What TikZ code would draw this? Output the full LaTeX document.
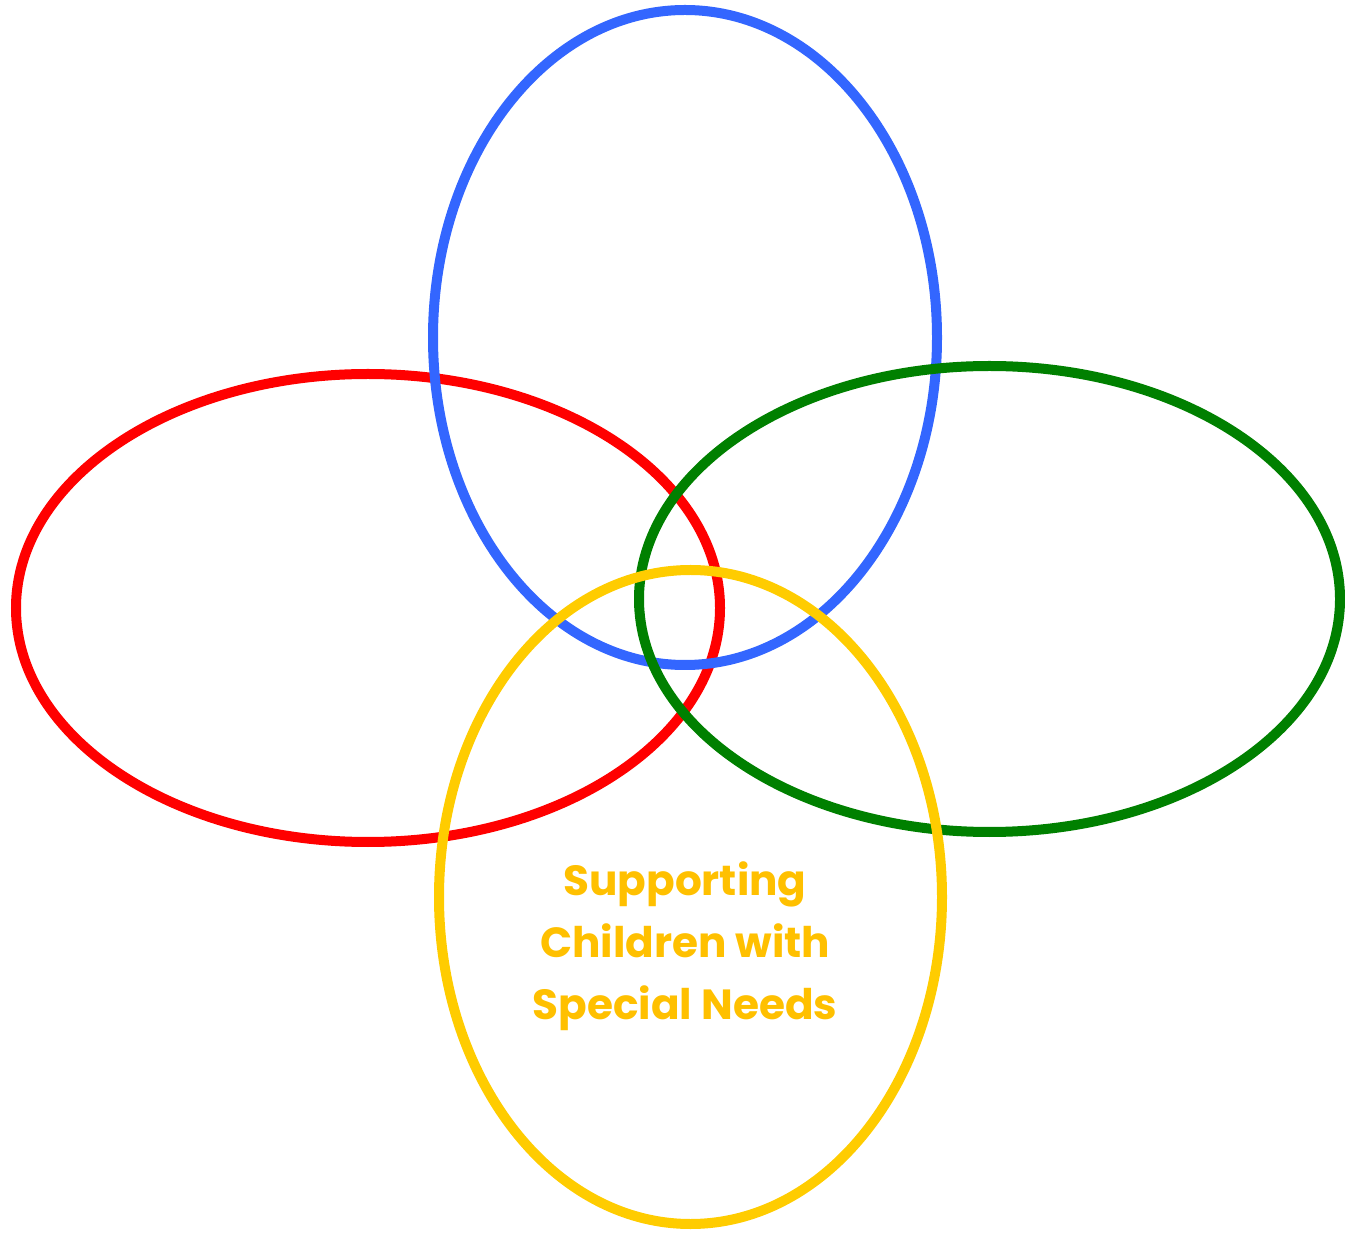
\documentclass[tikz,border=0pt]{standalone}
\usepackage{fontspec}
\setmainfont{Poppins}
\usepackage{xcolor}
\usetikzlibrary{positioning}

\definecolor{ringblue}{HTML}{3366FF}
\definecolor{ringred}{HTML}{FF0000}
\definecolor{ringgreen}{HTML}{008000}
\definecolor{ringyellow}{HTML}{FFCC00}
\definecolor{labelgold}{HTML}{FFC000}

\begin{document}
\begin{tikzpicture}[
  ring/.style={line width=0.1cm},
  label/.style={font=\fontsize{12}{17.7}\selectfont\bfseries,text=labelgold,align=center}
]
\useasboundingbox (0,0) rectangle (13.45,12.32);

% four rings
\draw[ring,ringred] (3.68,6.24) ellipse [x radius=3.52,y radius=2.34];
\draw[ring,ringblue] (6.85,8.945) ellipse [x radius=2.52,y radius=3.275];
\draw[ring,ringgreen] (9.895,6.33) ellipse [x radius=3.505,y radius=2.33];
\draw[ring,ringyellow] (6.905,3.35) ellipse [x radius=2.515,y radius=3.27];

\node[label] (title) at (6.85,2.86) {Supporting\\Children with\\Special Needs};

\end{tikzpicture}
\end{document}
